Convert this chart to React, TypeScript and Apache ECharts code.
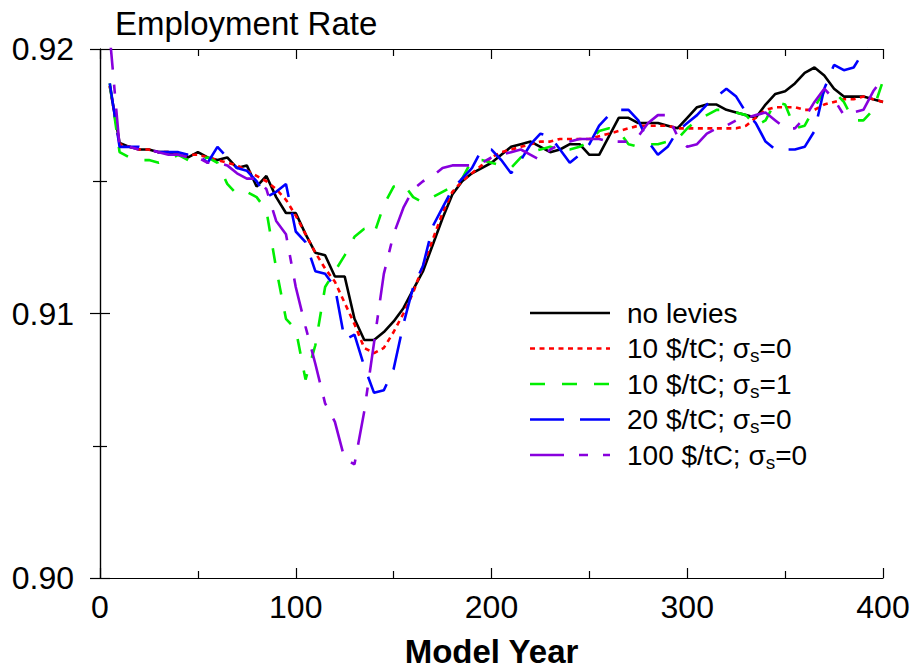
import React, { useEffect, useRef } from "react";
import * as echarts from "echarts";

// Model year (x) for every series
const years = [
  5, 10, 15, 20, 25, 30, 35, 40, 45, 50, 55, 60, 65, 70, 75, 80, 85, 90, 95, 100,
  105, 110, 115, 120, 125, 130, 135, 140, 145, 150, 155, 160, 165, 170, 175, 180, 185, 190, 195, 200,
  205, 210, 215, 220, 225, 230, 235, 240, 245, 250, 255, 260, 265, 270, 275, 280, 285, 290, 295, 300,
  305, 310, 315, 320, 325, 330, 335, 340, 345, 350, 355, 360, 365, 370, 375, 380, 385, 390, 395, 400,
];

const noLevies = [
  0.9186, 0.91645, 0.9163, 0.9162, 0.9162, 0.9161, 0.9161, 0.916, 0.9159, 0.9161, 0.9159, 0.9158, 0.9159, 0.9155, 0.9156, 0.9148, 0.9152, 0.9144, 0.9138, 0.9138,
  0.913, 0.9123, 0.9122, 0.9114, 0.9114, 0.9098, 0.909, 0.909, 0.9093, 0.9097, 0.9102, 0.9109, 0.9116, 0.9126, 0.9136, 0.9145, 0.915, 0.9153, 0.9155, 0.9157,
  0.916, 0.9163, 0.9164, 0.9165, 0.9163, 0.9161, 0.9162, 0.9164, 0.9164, 0.916, 0.916, 0.9167, 0.9174, 0.9174, 0.9172, 0.9172, 0.9172, 0.9171, 0.917, 0.9174,
  0.9178, 0.9179, 0.9179, 0.9177, 0.9176, 0.9175, 0.9174, 0.9179, 0.9183, 0.9184, 0.9187, 0.9191, 0.9193, 0.919, 0.9185, 0.9182, 0.9182, 0.9182, 0.9181, 0.918,
];

const levy10s0 = [
  0.9186, 0.9164, 0.9163, 0.9162, 0.9162, 0.9161, 0.9161, 0.916, 0.916, 0.916, 0.9159, 0.9158, 0.9157, 0.9156, 0.9154, 0.9152, 0.915, 0.9147, 0.9143, 0.9137,
  0.913, 0.9123, 0.9117, 0.9112, 0.9104, 0.9096, 0.9087, 0.9085, 0.9087, 0.9093, 0.91, 0.9108, 0.9118, 0.9128, 0.9138, 0.9146, 0.915, 0.9153, 0.9156, 0.9159,
  0.9161, 0.9162, 0.9163, 0.9164, 0.9165, 0.9165, 0.9166, 0.9166, 0.9166, 0.9166, 0.9167, 0.9168, 0.9169, 0.917, 0.9171, 0.9171, 0.9171, 0.9171, 0.917, 0.917,
  0.917, 0.917, 0.917, 0.917, 0.917, 0.9171, 0.9174, 0.9177, 0.9178, 0.9178, 0.9178, 0.9177, 0.9177, 0.9179, 0.918, 0.9181, 0.9181, 0.9182, 0.9181, 0.918,
];

const levy10s1 = [
  0.9187, 0.9161, 0.9159, 0.9158, 0.9158, 0.9157, 0.9158, 0.916, 0.9158, 0.9158, 0.9159, 0.9157, 0.9149, 0.9145, 0.9146, 0.9144, 0.9139, 0.9117, 0.9098, 0.9094,
  0.9075, 0.9088, 0.911, 0.9116, 0.9122, 0.9129, 0.9132, 0.913, 0.9141, 0.9148, 0.9149, 0.9144, 0.9142, 0.9144, 0.9146, 0.9148, 0.9151, 0.9158, 0.9158, 0.9157,
  0.9156, 0.9155, 0.9159, 0.9161, 0.9162, 0.9163, 0.9162, 0.9162, 0.9163, 0.9165, 0.9169, 0.917, 0.9169, 0.9164, 0.9163, 0.9164, 0.9164, 0.9165, 0.9166, 0.917,
  0.9173, 0.9175, 0.9177, 0.9177, 0.9176, 0.9175, 0.9171, 0.9173, 0.918, 0.9179, 0.917, 0.9171, 0.9178, 0.9184, 0.9184, 0.918, 0.9173, 0.9173, 0.9177, 0.9188,
];

const levy20s0 = [
  0.9187, 0.9163, 0.9163, 0.9163, 0.9162, 0.9161, 0.9161, 0.9161, 0.916, 0.916, 0.9157, 0.9163, 0.9159, 0.9155, 0.9154, 0.915, 0.9144, 0.9146, 0.9149, 0.9131,
  0.9127, 0.9116, 0.9115, 0.911, 0.909, 0.9092, 0.908, 0.907, 0.9071, 0.9079, 0.9096, 0.911, 0.9118, 0.9133, 0.914, 0.9147, 0.9151, 0.9155, 0.9162, 0.9162,
  0.9158, 0.9153, 0.9158, 0.9164, 0.9168, 0.9167, 0.9162, 0.9157, 0.916, 0.9164, 0.9171, 0.9175, 0.9177, 0.9177, 0.9173, 0.9165, 0.916, 0.9163, 0.9169, 0.9172,
  0.9175, 0.9179, 0.9182, 0.9185, 0.9182, 0.9176, 0.9172, 0.9165, 0.9162, 0.9162, 0.9162, 0.9163, 0.9169, 0.9185, 0.9194, 0.9192, 0.9193, 0.9199, 0.9205, 0.921,
];

const levy100s0 = [
  0.9205, 0.9163, 0.9163, 0.9162, 0.9162, 0.9161, 0.916, 0.916, 0.9159, 0.9159, 0.9157, 0.9157, 0.9156, 0.9153, 0.9151, 0.9151, 0.9147, 0.9135, 0.913, 0.911,
  0.9095, 0.9081, 0.9066, 0.9059, 0.9045, 0.9043, 0.9063, 0.9089, 0.9115, 0.913, 0.914, 0.9147, 0.915, 0.9152, 0.9155, 0.9156, 0.9156, 0.9156, 0.9157, 0.9159,
  0.916, 0.9161, 0.9162, 0.916, 0.9158, 0.9162, 0.9164, 0.9165, 0.9166, 0.9166, 0.9166, 0.9165, 0.9165, 0.9165, 0.9167, 0.9172, 0.9175, 0.9175, 0.9167, 0.9163,
  0.9164, 0.9168, 0.917, 0.9171, 0.9173, 0.9174, 0.9175, 0.9176, 0.9173, 0.917, 0.917, 0.9174, 0.918, 0.9185, 0.9181, 0.9175, 0.9176, 0.9177, 0.9184, 0.9189,
];

const FONT = "'Liberation Sans', Arial, Helvetica, sans-serif";

type SeriesDef = {
  name: string;
  label: string[]; // [before sigma, sigma value] or [plain]
  values: number[];
  color: string;
  dash: number[] | "solid";
};

const seriesDefs: SeriesDef[] = [
  { name: "no levies", label: ["no levies"], values: noLevies, color: "#000000", dash: "solid" },
  { name: "10 $/tC; σs=0", label: ["10 $/tC; ", "0"], values: levy10s0, color: "#ff0000", dash: [5, 4.5] },
  { name: "10 $/tC; σs=1", label: ["10 $/tC; ", "1"], values: levy10s1, color: "#00ee00", dash: [15, 17] },
  { name: "20 $/tC; σs=0", label: ["20 $/tC; ", "0"], values: levy20s0, color: "#0000ff", dash: [34, 16] },
  { name: "100 $/tC; σs=0", label: ["100 $/tC; ", "0"], values: levy100s0, color: "#8800dd", dash: [34, 15, 9, 15] },
];

export default function App() {
  const ref = useRef<HTMLDivElement>(null);

  useEffect(() => {
    if (!ref.current) return;
    const chart = echarts.init(ref.current, undefined, { renderer: "svg" });

    const axisLine = { show: true, lineStyle: { color: "#000", width: 1.2 } };
    const majorTick = { show: true, inside: true, length: 10, lineStyle: { color: "#000", width: 1.2 } };
    const minorTick = { show: true, splitNumber: 2, length: 7, lineStyle: { color: "#000", width: 1.2 } };

    // Legend drawn as graphic lines + texts
    const legendX0 = 530;
    const legendX1 = 610;
    const legendTextX = 627;
    const legendY0 = 313;
    const legendDy = 35.5;
    const legendGraphics: any[] = [];
    seriesDefs.forEach((s, i) => {
      const y = legendY0 + i * legendDy;
      legendGraphics.push({
        type: "line",
        shape: { x1: legendX0, y1: y, x2: legendX1, y2: y },
        style: {
          stroke: s.color,
          lineWidth: 2.5,
          lineDash: s.dash === "solid" ? null : s.dash,
        },
      });
      const text =
        s.label.length === 1
          ? `{t|${s.label[0]}}`
          : `{t|${s.label[0]}σ}{sub|s}{t|=${s.label[1]}}`;
      legendGraphics.push({
        type: "text",
        x: legendTextX,
        y: y,
        style: {
          text,
          fill: "#000",
          fontFamily: FONT,
          fontSize: 28,
          verticalAlign: "middle",
          rich: {
            t: { fontSize: 28, fontFamily: FONT, fill: "#000", verticalAlign: "middle" },
            sub: {
              fontSize: 19,
              fontFamily: FONT,
              fill: "#000",
              verticalAlign: "bottom",
              padding: [14, 0, 0, 0],
            },
          },
        },
      });
    });

    chart.setOption({
      animation: false,
      backgroundColor: "#ffffff",
      textStyle: { fontFamily: FONT },
      grid: {
        left: 100,
        top: 49,
        width: 783,
        height: 529,
        containLabel: false,
        outerBoundsMode: "none",
      },
      graphic: [
        {
          type: "text",
          x: 115,
          y: 23,
          style: {
            text: "Employment Rate",
            fill: "#000",
            fontFamily: FONT,
            fontSize: 33,
            verticalAlign: "middle",
          },
        },
        ...legendGraphics,
      ],
      xAxis: [
        {
          type: "value",
          position: "bottom",
          min: 0,
          max: 400,
          interval: 100,
          axisLine,
          axisTick: majorTick,
          minorTick,
          splitLine: { show: false },
          axisLabel: { color: "#000", fontSize: 32, fontFamily: FONT, margin: 13 },
          name: "Model Year",
          nameLocation: "middle",
          nameGap: 57,
          nameTextStyle: {
            color: "#000",
            fontSize: 33,
            lineHeight: 33,
            fontWeight: "bold",
            fontFamily: FONT,
          },
        },
        {
          type: "value",
          position: "top",
          min: 0,
          max: 400,
          interval: 100,
          axisLine,
          axisTick: majorTick,
          minorTick,
          splitLine: { show: false },
          axisLabel: { show: false },
        },
      ],
      yAxis: [
        {
          type: "value",
          position: "left",
          min: 0.9,
          max: 0.92,
          interval: 0.01,
          axisLine,
          axisTick: majorTick,
          minorTick,
          splitLine: { show: false },
          axisLabel: {
            color: "#000",
            fontSize: 32,
            fontFamily: FONT,
            margin: 26,
            formatter: (v: number) => v.toFixed(2),
          },
        },
        {
          type: "value",
          position: "right",
          min: 0.9,
          max: 0.92,
          interval: 0.01,
          axisLine,
          axisTick: majorTick,
          minorTick,
          splitLine: { show: false },
          axisLabel: { show: false },
        },
      ],
      series: seriesDefs.map((s) => ({
        name: s.name,
        type: "line",
        xAxisIndex: 0,
        yAxisIndex: 0,
        data: years.map((yr, i) => [yr, s.values[i]]),
        showSymbol: false,
        symbol: "none",
        clip: true,
        lineStyle: { color: s.color, width: 2.6, type: s.dash },
        emphasis: { disabled: true },
      })),
    });

    return () => chart.dispose();
  }, []);

  return (
    <div
      ref={ref}
      style={{ position: "fixed", left: 0, top: 0, width: 913, height: 670, background: "#fff" }}
    />
  );
}
